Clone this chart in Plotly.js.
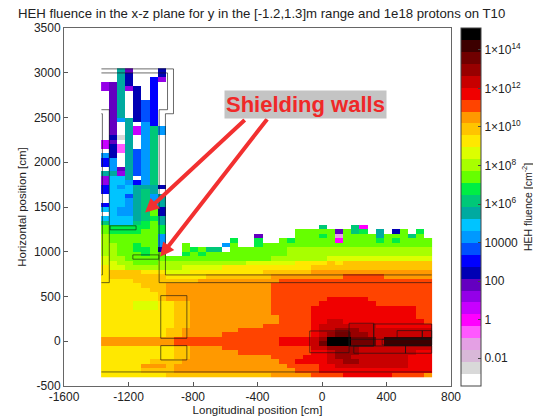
<!DOCTYPE html>
<html><head><meta charset="utf-8">
<script src="https://cdn.plot.ly/plotly-3.0.1.min.js"></script>
<style>html,body{margin:0;padding:0;background:#fff}#g{width:533px;height:416px}</style>
</head><body><div id="g"></div>
<script>
// Level characters, low to high: one per 50 cm cell, rows from y=3050 cm downward.
const towerLevels = [
"00e80009","00e90009","00e900a7","78e900a0","78e790a0","08e090a0","08e090a0","08e09ba0","08e09ba0","08e09ba0",
"08e09ba0","08ce9ba0","080e0ca0","080e6cfc","080e6cfc","091e0cf0","680e0cf0","694e0cf0","094ebcf0","c90ebcf0",
"ac0ebcf0","ac0ebcf0","0c8ebcf0","ee7ebcf0","7dde0cf0","7ddcacf0","adcdeee9","adddefe0","0ddbefce","0ddcefce",
"addcefce","ddccefh9","0dccefh9","ddddefge","fdddfghe","hggggghg","hgggghhg","ihhhhhhc","ihhhhhhc","iihhghhc",
"iihhggh9","iihhhghh","jiihhhhh","jjiihhhi","kjjiiiii","kllllkkk","klllllll","kkkkllll","kkkkklll","kkkkkkll",
"kkkkkkkl","kkkkkkkl","kkkkjjjk","kkkkjjjk","kkkkkkkk","kkkkkkkk","kkkkkkkk","kkkkkkkk","kkkkkkkk","kkkkkkkk",
"mmmmmmmm","mmmmmmmm","kkkkkkkk","kkkkkkkk","kkkkkkkk","kkkkkkll","kkkkkmmm","kkkkklll","kkkkkkkk"
];
const fieldLevels = {
35:"00000 00000 00000 0000f 000f5 00000 000",
36:"00000 00000 00000 0hhhh h8hfg 0e09h 0g0",
37:"00000 00000 08000 0hhhg h3hhh hehhh fh0",
38:"00000 000g0 0g00h ghhhh h5hhh hghgh hhh",
39:"00h00 00ch0 0ghhh hhhhh hhhhh hhhhh hhh",
40:"00hgh ff0hh hhhhh iiiii iiiii iiiii iii",
41:"00ghg hhhhh hhhhh iiiii iiiii iiiii iii",
42:"hhhhh hhhhh hhhii iiiii jjjjj jjjjj jjj",
43:"iiiii iiiii jjjjj jkkkk lklll lllll lll",
44:"iijjj jjkkk kkkkk kkkll lllll lllll lll",
45:"jjjkk kkkkk kklll lllmm mmmmm mmmmm mmm",
46:"kkkkk lllll lllmm mmmmm mmnnn nnmmm mmm",
47:"llllm mmmmm mmmmn nnnnn nnnnn nnnnn nnn",
48:"mmmmm mmmmm mmmnn nnnnn nnnnn nnnnn nnn",
49:"mmmmm mmmmm mmmnn nnnnn nnnnn nnnnn nnn",
50:"mmmmm mmmmm mmmnn nnnnn nnnnn nnnnn nnn",
51:"mmmmm mmmmm mmmnn nnnnn ooooo nnnnn nnn",
52:"kllmm mmmmm mmmnn nnnno ooooo onnnn nnn",
53:"kllmm mmmmm mmmnn nnnoo ooooo ooooo onn",
54:"kllmm mmmmm mmmnn nnnoo ooooo ooooo onn",
55:"kllmm mmmmm mmmmn nnnoo ooooo ooooo onn",
56:"kllmm mmmmm mmmmn nnnoo ppooo ooooo oon",
57:"kllmm mmmmm mmnnn nnnop ppppp poooo ooo",
58:"llmmm mmmmn nnnnn nnnop pqqqp ppppp ppp",
59:"llmmm mmnnn nnnnn nnnop qrrqq ppppp ppp",
60:"mnnnn nnnnn nnnno ooopq tttrr rpsss sss",
61:"mnnnn nnnnn nnnno ooopr tttrr rpsss sss",
62:"kllmm mmnnn nnnnn nnnpp qqqqp ppppp ppp",
63:"kllmm mmmmn nnnnn nnnoo pqqqp ppppp poo",
64:"kllmm mmmmm mmmnn nnooo pqqpp ppppp ooo",
65:"llmmm mmmmm mmmmn noooo ppqqp ppppp ooo",
66:"lmmmm mmmmm mmmmm nnnno opppp ppppp ooo",
67:"lmmmm mmmmm mmmmm mnnno ooooo ooooo ooo",
68:"lllll lllll lllmm mmmnn nnooo ooonn nnm"
};
const levelChars = "0123456789abcdefghijklmnopqrst";
const levelColors = ["#ffffff","#d9d9d9","#d8b8d8","#e4a0e4","#ff58ff","#ff00ff","#c800ff","#9400e8","#6400c0","#0000b4",
"#0000ff","#0050ff","#0099ff","#00c4ff","#00aaa0","#00c878","#00ee44","#66ff00","#a8ff00","#dcff00",
"#ffe800","#ffc400","#ff9900","#ff4400","#f00000","#c80000","#980000","#700000","#3c0000","#000000"];
const logMin = -3.45, logMax = 15.14;
const tickLogs = [14,12,10,8,6,4,2,0,-2];
const tickTexts = ["1×10<sup>14</sup>","1×10<sup>12</sup>","1×10<sup>10</sup>","1×10<sup>8</sup>","1×10<sup>6</sup>","10000","100","1","0.01"];
const xTicks = [-1600,-1200,-800,-400,0,400,800];
const xTickLabels = ["-1600","-1200","-800","-400","0","400","800"];
const yTicks = [-500,0,500,1000,1500,2000,2500,3000,3500];
const yTickLabels = ["-500","0","500","1000","1500","2000","2500","3000","3500"];

// Geometry outlines (cm)
const wallLines = [
 [[-1368,3043],[-921,3043],[-921,2542],[-971,2542],[-971,741],[680,741]],
 [[-1368,2998],[-958,2998],[-958,2587],[-1010,2587],[-1010,655],[680,655]],
 [[-1368,2587],[-1319,2587],[-1319,655],[-1368,655]],
 [[-1368,2542],[-1362,2542],[-1362,741],[-1368,741]],
 [[-1368,-343],[680,-343]]
];
const boxes = [
 [-1314,1245,-1153,1290],[-1173,917,-1012,965],[-1000,33,-838,510],[-1000,-209,-838,-49],
 [-76,-128,168,115],[168,-53,321,201],[321,22,680,193],[466,33,622,119],[622,33,680,119],
 [373,-41,680,22],[197,-134,518,-53],[518,-134,680,-53],[168,-53,321,22]
];

const nRows = towerLevels.length, nCols = 41;
const band = (logMax-logMin)/levelColors.length;
const z = [];
for (let r = nRows-1; r >= 0; r--) {
  const s = towerLevels[r] + (fieldLevels[r] || "").replace(/ /g,"");
  const row = [];
  for (let c = 0; c < nCols; c++) {
    const k = levelChars.indexOf(s[c] || "0");
    row.push(logMin + (k+0.5)*band);
  }
  z.push(row);
}
const colorscale = [];
levelColors.forEach((col,i)=>{ colorscale.push([i/levelColors.length,col]); colorscale.push([(i+1)/levelColors.length,col]); });

const lx=[], ly=[];
wallLines.forEach(l=>{ l.forEach(p=>{lx.push(p[0]);ly.push(p[1]);}); lx.push(null);ly.push(null); });
boxes.forEach(b=>{ [[b[0],b[1]],[b[2],b[1]],[b[2],b[3]],[b[0],b[3]],[b[0],b[1]]].forEach(p=>{lx.push(p[0]);ly.push(p[1]);}); lx.push(null);ly.push(null); });

const F = "Liberation Sans, Arial, sans-serif";
const traces = [
 {type:"heatmap", z:z, x0:-1345, dx:50, y0:-375, dy:50, zmin:logMin, zmax:logMax, zsmooth:false,
  colorscale:colorscale, hoverinfo:"skip",
  colorbar:{x:1.0255, xanchor:"left", xpad:0, ypad:0, y:0.5, yanchor:"middle", len:1, lenmode:"fraction", thickness:20,
    outlinecolor:"#444", outlinewidth:1, tickmode:"array", tickvals:tickLogs, ticktext:tickTexts,
    ticks:"inside", ticklen:3, tickcolor:"#444", tickfont:{family:F,size:12,color:"#222"},
    title:{text:"HEH fluence [cm<sup>-2</sup>]", side:"right", font:{family:F,size:10.5,color:"#222"}}}},
 {type:"scatter", mode:"lines", x:lx, y:ly, line:{color:"rgba(20,20,20,0.7)",width:0.9}, hoverinfo:"skip", showlegend:false}
];
const layout = {
 width:533, height:416, margin:{l:64,r:82,t:28,b:30,autoexpand:false}, paper_bgcolor:"#fff", plot_bgcolor:"#fff", showlegend:false,
 font:{family:F,color:"#222"},
 title:{text:"HEH fluence in the x-z plane for y in the [-1.2,1.3]m range and 1e18 protons on T10",
   x:18/533, xanchor:"left", y:1-13/416, yanchor:"middle", xref:"container", yref:"container", font:{family:F,size:13.2,color:"#222"}},
 xaxis:{range:[-1600,800], tickmode:"array", tickvals:xTicks, ticktext:xTickLabels, ticks:"inside", ticklen:4, tickcolor:"#555", showline:true, mirror:true, linecolor:"#666", linewidth:1,
   showgrid:false, zeroline:false, tickfont:{family:F,size:12,color:"#222"},
   title:{text:"Longitudinal position [cm]", standoff:2, font:{family:F,size:11.5,color:"#222"}}},
 yaxis:{range:[-500,3500], tickmode:"array", tickvals:yTicks, ticktext:yTickLabels, ticks:"inside", ticklen:4, tickcolor:"#555", showline:true, mirror:true, linecolor:"#666", linewidth:1,
   showgrid:false, zeroline:false, tickfont:{family:F,size:12,color:"#222"},
   title:{text:"Horizontal position [cm]", standoff:4, font:{family:F,size:11.5,color:"#222"}}},
 annotations:[
  {x:-1097,y:1438,ax:-470,ay:2487,axref:"x",ayref:"y",xref:"x",yref:"y",text:"",showarrow:true,arrowhead:2,arrowsize:0.7,arrowwidth:4,arrowcolor:"#f23030"},
  {x:-1004,y:943,ax:-333,ay:2498,axref:"x",ayref:"y",xref:"x",yref:"y",text:"",showarrow:true,arrowhead:2,arrowsize:0.7,arrowwidth:4,arrowcolor:"#f23030"},
  {x:-103,y:2649,xref:"x",yref:"y",text:"<b>Shielding walls</b>",showarrow:false,bgcolor:"#c4c4c4",borderpad:1,xanchor:"center",yanchor:"middle",font:{family:F,size:22,color:"#f02828"}}
 ]
};
Plotly.newPlot("g",traces,layout,{displayModeBar:false,staticPlot:true});
</script></body></html>
